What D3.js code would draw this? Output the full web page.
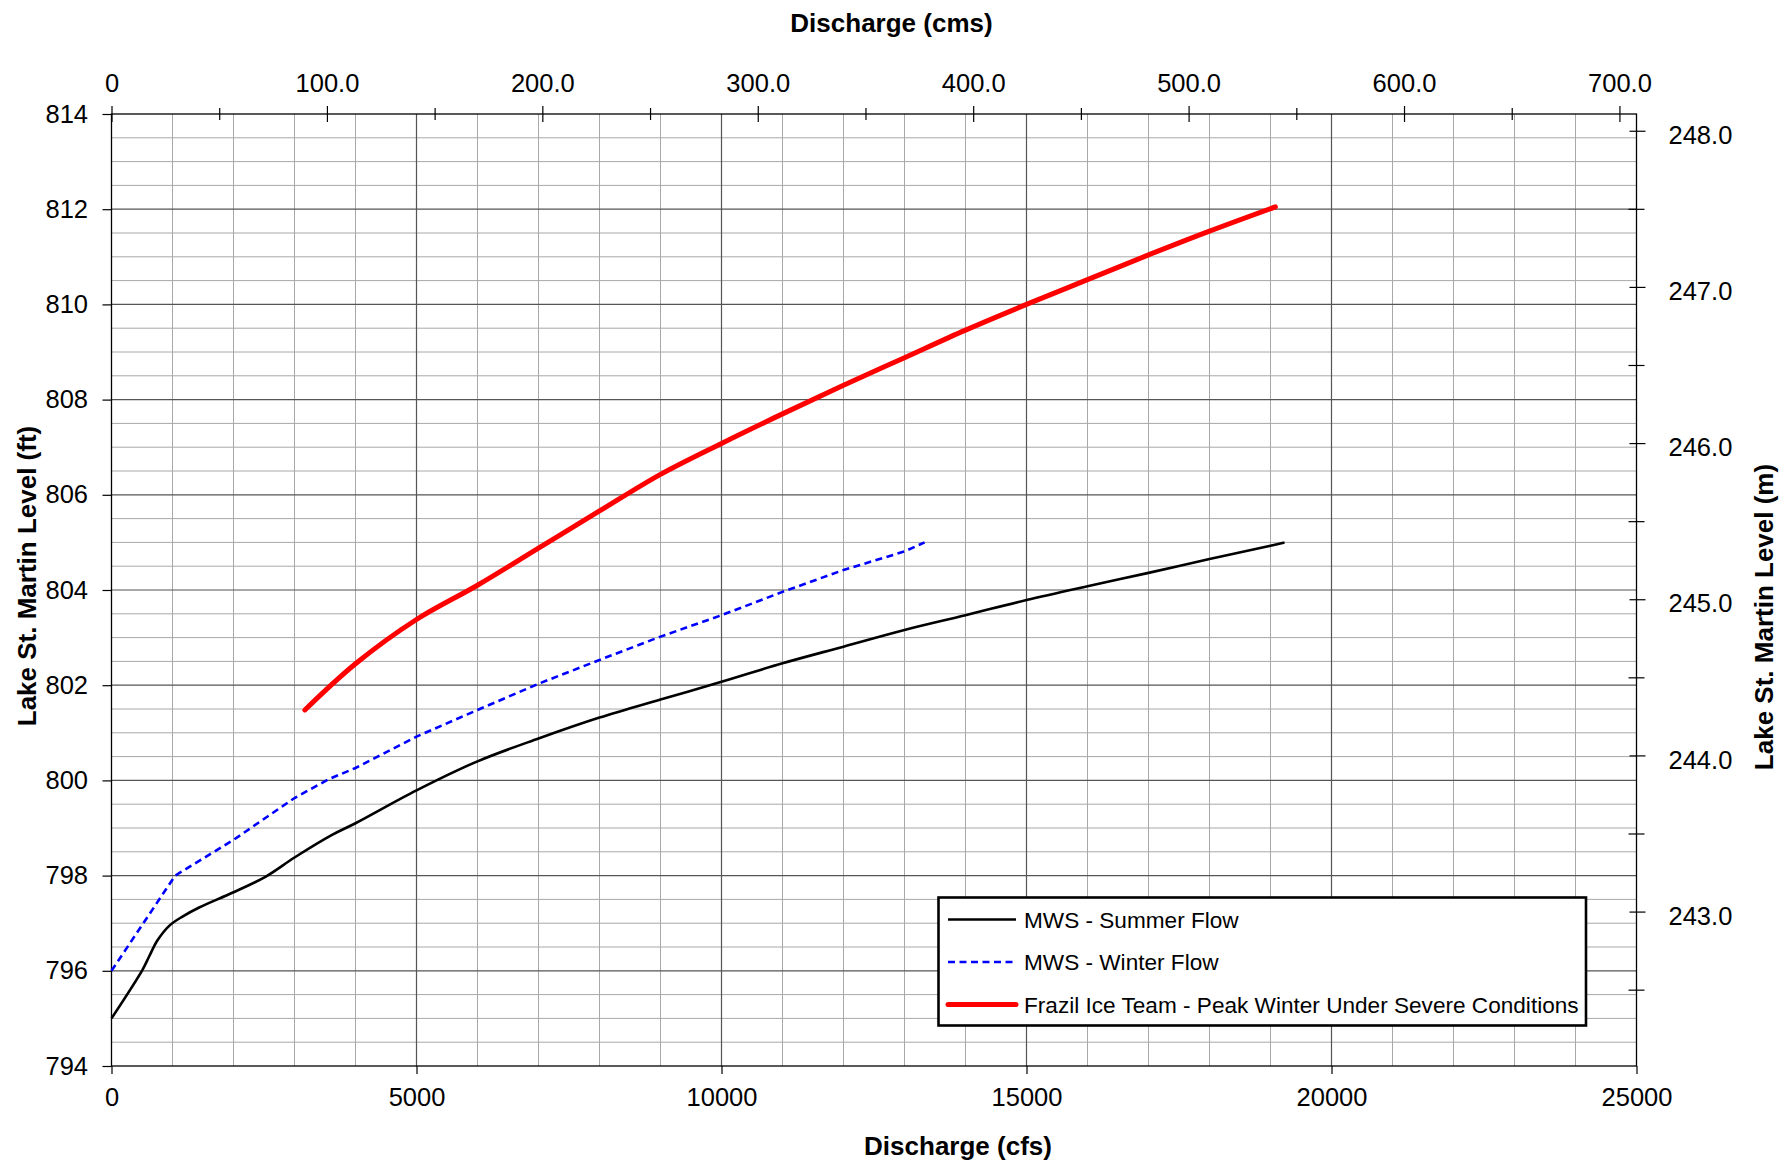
<!DOCTYPE html>
<html>
<head>
<meta charset="utf-8">
<script src="https://cdn.jsdelivr.net/npm/d3@7"></script>
<style>
  body { margin: 0; background: #fff; }
  text { font-family: "Liberation Sans", Arial, sans-serif; fill: #000; }
  .axisTitle { font-weight: bold; font-size: 26px; }
</style>
</head>
<body>
<div id="chart"></div>
<script>
// Values (cfs vs ft)
const summerCfs = [0, 508, 617, 754, 950, 1164, 1437, 2000, 2530, 3000, 3623, 4000, 5000, 6000, 7000,
  8000, 9000, 10000, 11000, 12000, 13000, 14000, 15000, 16000, 17000, 18000, 19000, 19230];
const summerFt = [795.0, 796.02, 796.3, 796.64, 796.95, 797.14, 797.33, 797.65, 797.98, 798.38, 798.86, 799.1, 799.79, 800.4, 800.88,
  801.32, 801.7, 802.07, 802.46, 802.81, 803.16, 803.47, 803.79, 804.08, 804.36, 804.65, 804.93, 805.0];

const winterCfs = [0, 1044, 2000, 3000, 3568, 4000, 5000, 6000, 7000, 8000, 9000, 10000, 11000, 12000, 13000, 13330];
const winterFt = [796.0, 798.0, 798.75, 799.63, 800.03, 800.26, 800.92, 801.48, 802.03, 802.53, 803.02, 803.47, 803.96, 804.42, 804.81, 805.0];

const iceCfs = [3170, 4000, 5000, 6000, 7000, 8000, 9000, 10000, 11000, 12000, 13000, 14000, 15000, 16000, 17000, 18000, 19080];
const iceFt = [801.48, 802.45, 803.38, 804.1, 804.88, 805.66, 806.43, 807.08, 807.7, 808.3, 808.88, 809.46, 810.0, 810.52, 811.04, 811.54, 812.05];

const seriesNames = ["MWS - Summer Flow", "MWS - Winter Flow", "Frazil Ice Team - Peak Winter Under Severe Conditions"];

// Tick labels
const cfsTicks = [0, 5000, 10000, 15000, 20000, 25000];
const ftTicks = [794, 796, 798, 800, 802, 804, 806, 808, 810, 812, 814];
const cmsTicks = [0, 100, 200, 300, 400, 500, 600, 700];
const mTicks = [243, 244, 245, 246, 247, 248];

const CFS_PER_CMS = 35.3147;
const FT_PER_M = 3.28084;

// Chart size
const svgWidth = 1784;
const svgHeight = 1162;
const margin = { top: 114, right: 147.5, bottom: 96, left: 111.5 };
const width = svgWidth - margin.left - margin.right;
const height = svgHeight - margin.top - margin.bottom;

const svg = d3.select("#chart")
  .append("svg")
  .attr("width", svgWidth)
  .attr("height", svgHeight)
  .style("display", "block");

svg.append("rect").attr("width", svgWidth).attr("height", svgHeight).attr("fill", "#fff");

const chartGroup = svg.append("g")
  .attr("transform", `translate(${margin.left}, ${margin.top})`);

// Scales
const xScale = d3.scaleLinear().domain([0, 25000]).range([0, width]);
const yScale = d3.scaleLinear().domain([794, 814]).range([height, 0]);
const xTop = d3.scaleLinear().domain([0, 25000 / CFS_PER_CMS]).range([0, width]);
const yRight = d3.scaleLinear().domain([794 / FT_PER_M, 814 / FT_PER_M]).range([height, 0]);

// Gridlines: minor every 1000 cfs / 0.5 ft, major every 5000 cfs / 2 ft
const gridGroup = chartGroup.append("g");
gridGroup.selectAll(".vminor")
  .data(d3.range(1000, 25000, 1000).filter(d => d % 5000 !== 0))
  .join("line")
  .attr("x1", d => xScale(d)).attr("x2", d => xScale(d))
  .attr("y1", 0).attr("y2", height)
  .attr("stroke", "#a8a8a8").attr("stroke-width", 1);
gridGroup.selectAll(".hminor")
  .data(d3.range(794.5, 814, 0.5).filter(d => d % 2 !== 0))
  .join("line")
  .attr("x1", 0).attr("x2", width)
  .attr("y1", d => yScale(d)).attr("y2", d => yScale(d))
  .attr("stroke", "#a8a8a8").attr("stroke-width", 1);
gridGroup.selectAll(".vmajor")
  .data(cfsTicks.slice(1, -1))
  .join("line")
  .attr("x1", d => xScale(d)).attr("x2", d => xScale(d))
  .attr("y1", 0).attr("y2", height)
  .attr("stroke", "#555").attr("stroke-width", 1.2);
gridGroup.selectAll(".hmajor")
  .data(ftTicks.slice(1, -1))
  .join("line")
  .attr("x1", 0).attr("x2", width)
  .attr("y1", d => yScale(d)).attr("y2", d => yScale(d))
  .attr("stroke", "#555").attr("stroke-width", 1.2);

// Frame
chartGroup.append("rect")
  .attr("width", width).attr("height", height)
  .attr("fill", "none").attr("stroke", "#000").attr("stroke-width", 1.3);

const fontFamily = '"Liberation Sans", Arial, sans-serif';
function styleAxis(g) {
  g.attr("font-size", 25.5).attr("font-family", fontFamily);
  g.select(".domain").remove();
  g.selectAll("line").attr("stroke", "#000").attr("stroke-width", 1.2);
}

// Bottom axis (cfs)
chartGroup.append("g")
  .attr("transform", `translate(0, ${height})`)
  .call(d3.axisBottom(xScale).tickValues(cfsTicks).tickSize(8).tickPadding(14).tickFormat(d3.format("d")))
  .call(styleAxis);

// Left axis (ft)
chartGroup.append("g")
  .call(d3.axisLeft(yScale).tickValues(ftTicks).tickSize(9).tickPadding(14.5).tickFormat(d3.format("d")))
  .call(styleAxis);

// Top axis (cms), ticks cross the frame
chartGroup.append("g")
  .call(d3.axisTop(xTop).tickValues(d3.range(50, 701, 100)).tickSize(6).tickFormat(""))
  .call(styleAxis)
  .call(g => g.selectAll("line").attr("y1", 6));
chartGroup.append("g")
  .call(d3.axisTop(xTop).tickValues(cmsTicks).tickSize(8).tickPadding(14)
    .tickFormat(d => d === 0 ? "0" : d3.format(".1f")(d)))
  .call(styleAxis)
  .call(g => g.selectAll("line").attr("y1", 8));

// Right axis (m), ticks cross the frame
chartGroup.append("g")
  .attr("transform", `translate(${width}, 0)`)
  .call(d3.axisRight(yRight).tickValues(d3.range(242.5, 248.1, 1)).tickSize(8).tickFormat(""))
  .call(styleAxis)
  .call(g => g.selectAll("line").attr("x1", -8));
chartGroup.append("g")
  .attr("transform", `translate(${width}, 0)`)
  .call(d3.axisRight(yRight).tickValues(mTicks).tickSize(9).tickPadding(23).tickFormat(d3.format(".1f")))
  .call(styleAxis)
  .call(g => g.selectAll("line").attr("x1", -7))
  .call(g => g.selectAll("text").attr("dy", "0.5em"));

// Lines
const lineGen = d3.line().x(d => xScale(d[0])).y(d => yScale(d[1]));
const summer = d3.zip(summerCfs, summerFt);
const winter = d3.zip(winterCfs, winterFt);
const ice = d3.zip(iceCfs, iceFt);

chartGroup.append("path")
  .datum(summer)
  .attr("d", lineGen.curve(d3.curveCatmullRom.alpha(0.5)))
  .attr("fill", "none").attr("stroke", "#000").attr("stroke-width", 2.6);

chartGroup.append("path")
  .datum(winter)
  .attr("d", lineGen.curve(d3.curveLinear))
  .attr("fill", "none").attr("stroke", "#0000ff").attr("stroke-width", 2.6)
  .attr("stroke-dasharray", "7,4.5");

chartGroup.append("path")
  .datum(ice)
  .attr("d", lineGen.curve(d3.curveCatmullRom.alpha(0.5)))
  .attr("fill", "none").attr("stroke", "#ff0000").attr("stroke-width", 5)
  .attr("stroke-linecap", "round").attr("stroke-linejoin", "round");

// Axis titles
svg.append("text").attr("class", "axisTitle")
  .attr("x", 891.5).attr("y", 32).attr("text-anchor", "middle")
  .text("Discharge (cms)");
svg.append("text").attr("class", "axisTitle")
  .attr("x", 958).attr("y", 1155).attr("text-anchor", "middle")
  .text("Discharge (cfs)");
svg.append("text").attr("class", "axisTitle")
  .attr("transform", "translate(35.6, 576) rotate(-90)").attr("text-anchor", "middle")
  .text("Lake St. Martin Level (ft)");
svg.append("text").attr("class", "axisTitle")
  .attr("transform", "translate(1773, 617) rotate(-90)").attr("text-anchor", "middle")
  .text("Lake St. Martin Level (m)");

// Legend
const legend = svg.append("g").attr("transform", "translate(938.5, 897.5)");
legend.append("rect")
  .attr("width", 647.5).attr("height", 128)
  .attr("fill", "#fff").attr("stroke", "#000").attr("stroke-width", 2.6);

const legendStyles = [
  { color: "#000", w: 2.6, dash: null },
  { color: "#0000ff", w: 2.6, dash: "7,4.5" },
  { color: "#ff0000", w: 5, dash: null }
];
const legendRows = legend.selectAll(".row")
  .data(seriesNames)
  .join("g")
  .attr("transform", (d, i) => `translate(0, ${22 + i * 42.5})`);
legendRows.append("line")
  .attr("x1", 9.5).attr("x2", 77.5)
  .attr("stroke", (d, i) => legendStyles[i].color)
  .attr("stroke-width", (d, i) => legendStyles[i].w)
  .attr("stroke-dasharray", (d, i) => legendStyles[i].dash)
  .attr("stroke-linecap", (d, i) => i === 2 ? "round" : "butt");
legendRows.append("text")
  .attr("x", 85.5).attr("dy", "0.36em")
  .attr("font-size", 22.6)
  .text(d => d);
</script>
</body>
</html>
